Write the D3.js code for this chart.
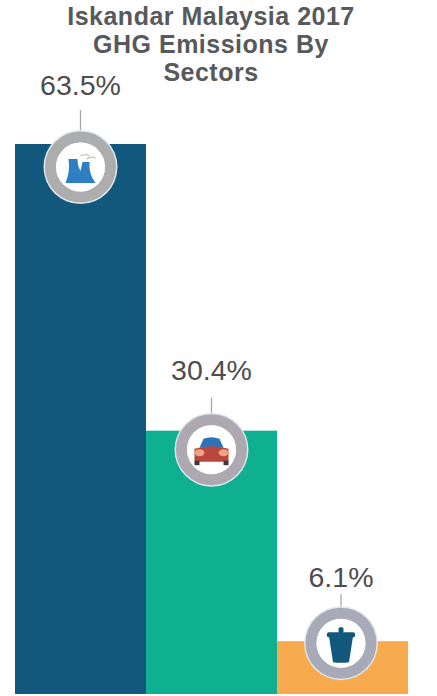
<!DOCTYPE html>
<html><head><meta charset="utf-8">
<script src="https://cdnjs.cloudflare.com/ajax/libs/d3/7.8.5/d3.min.js"></script>
<style>html,body{margin:0;padding:0;background:#fff;overflow:hidden}svg{display:block}
text{font-family:"Liberation Sans","DejaVu Sans",sans-serif}</style>
</head><body><svg id="c" width="437" height="696"></svg>
<script>
const categories = ["Energy", "Transportation", "Waste"];
const values = [63.5, 30.4, 6.1];
const valueLabels = ["63.5%", "30.4%", "6.1%"];
const barColors = ["#12587c", "#0eb090", "#f7ab4e"];
const ringColors = ["#aeadad", "#aea8b0", "#a9aab8"];
const titleLines = ["Iskandar Malaysia 2017", "GHG Emissions By", "Sectors"];
const iconOffsets = [23, 19, 2];
const leaderLengths = [57, 52, 49];
const labelYs = [95, 380, 587];

const svg = d3.select("#c");
const x = d3.scaleBand().domain(categories).range([15, 408]).padding(0);
const y = d3.scaleLinear().domain([0, 63.5]).range([694, 144]);
const cx = (d, i) => x(d) + x.bandwidth() / 2 - (i === 2 ? 1.5 : 0);

svg.append("g").selectAll("text").data(titleLines).join("text")
  .attr("x", 211).attr("y", (d, i) => 25 + i * 28.2)
  .attr("text-anchor", "middle")
  .attr("font-weight", "bold").attr("font-size", 25).attr("letter-spacing", 0.5)
  .attr("fill", "#58595b").text(d => d);

svg.append("g").selectAll("rect").data(categories).join("rect")
  .attr("x", d => x(d)).attr("width", x.bandwidth())
  .attr("y", (d, i) => y(values[i]))
  .attr("height", (d, i) => y(0) - y(values[i]))
  .attr("fill", (d, i) => barColors[i]);

svg.append("g").selectAll("text").data(valueLabels).join("text")
  .attr("x", (d, i) => cx(categories[i], i))
  .attr("y", (d, i) => labelYs[i])
  .attr("text-anchor", "middle")
  .attr("font-size", 28.5).attr("fill", "#4d4d4f").text(d => d);

const badges = svg.append("g").selectAll("g").data(categories).join("g")
  .attr("transform", (d, i) => `translate(${cx(d, i)},${y(values[i]) + iconOffsets[i]})`);

badges.append("line").attr("y1", (d, i) => -leaderLengths[i]).attr("y2", -35).attr("stroke", "#a7a9ac").attr("stroke-width", 1.3);
badges.append("circle").attr("r", 37).attr("fill", "#dfe8ee");
badges.append("circle").attr("r", 30).attr("fill", "none").attr("stroke", (d, i) => ringColors[i]).attr("stroke-width", 11);
badges.append("circle").attr("r", 24.5).attr("fill", "#fff");

// Icons
const energy = badges.filter((d, i) => i === 0);
energy.append("path").attr("fill", "#2f7fc4")
  .attr("d", "M-15,16 Q-10,4 -12,-8 L-3,-8 Q-3,-1 0,4 L2,-5 L9,-5 Q8,7 15,16 Z");
energy.append("path").attr("fill", "none").attr("stroke", "#cfc9c0").attr("stroke-width", 1.6)
  .attr("d", "M0,-11 Q5,-14 9,-11 M6,-8 Q11,-11 15,-9");

const car = badges.filter((d, i) => i === 1);
car.append("path").attr("fill", "#2f72b8").attr("d", "M-12,-2 L-8,-11 Q0,-14 8,-11 L12,-2 Z");
car.append("path").attr("fill", "#b9473f").attr("d", "M-17,-1 Q0,-6 17,-1 L17,12 L-17,12 Z");
car.append("ellipse").attr("cx", -12).attr("cy", 3).attr("rx", 5).attr("ry", 3.5).attr("fill", "#f2a183");
car.append("ellipse").attr("cx", 12).attr("cy", 3).attr("rx", 5).attr("ry", 3.5).attr("fill", "#f2a183");
car.append("rect").attr("x", -17).attr("y", 11).attr("width", 5).attr("height", 4.5).attr("fill", "#3a3a3c");
car.append("rect").attr("x", 12).attr("y", 11).attr("width", 5).attr("height", 4.5).attr("fill", "#3a3a3c");

const bin = badges.filter((d, i) => i === 2);
bin.append("path").attr("fill", "#12587c").attr("d", "M-12,-7 L12,-7 L8,19 Q0,20 -8,19 Z");
bin.append("rect").attr("x", -14).attr("y", -11).attr("width", 28).attr("height", 5).attr("rx", 1.5).attr("fill", "#12587c");
bin.append("rect").attr("x", -2.5).attr("y", -16).attr("width", 5).attr("height", 6).attr("rx", 1.5).attr("fill", "#12587c");
</script></body></html>
